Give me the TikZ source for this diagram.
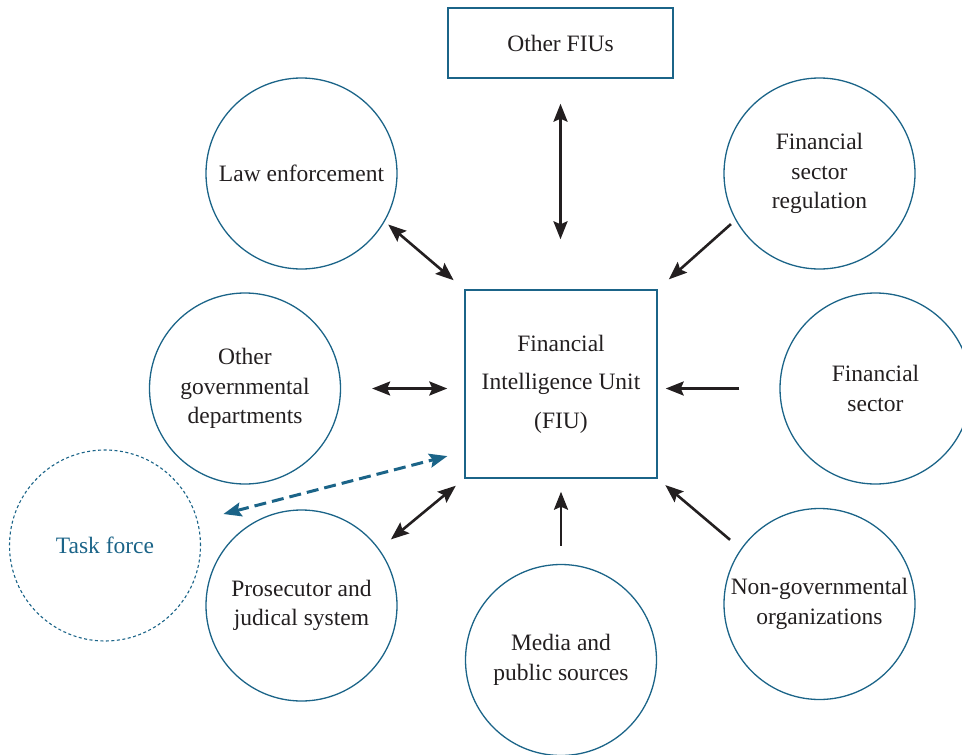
\documentclass[tikz,border=0pt]{standalone}
\usepackage{fontspec}
\setmainfont{Liberation Serif}
\usetikzlibrary{arrows.meta}
\definecolor{teal1}{HTML}{1B6488}
\definecolor{ink}{HTML}{231F20}
\begin{document}
\begin{tikzpicture}[x=1pt,y=-1pt,
  circ/.style={circle, draw=teal1, line width=1.3pt, minimum size=191pt, inner sep=0pt, align=center, text=ink, font=\fontsize{23.5}{29.5}\selectfont},
  tfcirc/.style={circ, dash pattern=on 3pt off 2.5pt, line width=1.1pt, text=teal1},
  box/.style={rectangle, draw=teal1, line width=1.4pt, inner sep=0pt, align=center, text=ink, font=\fontsize{23.5}{29.5}\selectfont},
  tip/.tip={Stealth[length=18pt,width=14pt,inset=3pt]},
  link/.style={draw=ink, line width=2.6pt, -tip},
  both/.style={draw=ink, line width=2.6pt, tip-tip},
  dashlink/.style={draw=teal1, line width=3pt, dash pattern=on 12pt off 6pt, tip-tip},
]
\clip (0,0) rectangle (962,755);

\node[box, minimum width=225pt, minimum height=70pt] (fius) at (560.5,43) {Other FIUs};
\node[box, minimum width=192pt, minimum height=188pt, font=\fontsize{23.5}{38.5}\selectfont] (fiu) at (561,384) {Financial\\Intelligence Unit\\(FIU)};
\node[circ] (law) at (301.5,173.5) {Law enforcement};
\node[circ] (reg) at (819.5,173.5) {Financial\\sector\\regulation};
\node[circ] (ogd) at (245,388.5) {Other\\governmental\\departments};
\node[circ] (fs) at (875.5,388.5) {Financial\\sector};
\node[tfcirc] (tf) at (105,545.5) {Task force};
\node[circ] (pros) at (301.5,605.5) {Prosecutor and\\judical system};
\node[circ] (media) at (561,660) {Media and\\public sources};
\node[circ] (ngo) at (819.5,604) {Non-governmental\\organizations};

\draw[both, shorten <=25pt, shorten >=50pt] (fius.south) -- (fius.south |- fiu.north);
\draw[both, shorten <=4.5pt, shorten >=14pt] (law.-30) -- (fiu.north west);
\draw[link, shorten <=6pt, shorten >=15pt] (reg.-151) -- (fiu.north east);
\draw[both, shorten <=31pt, shorten >=17pt] (ogd.east) -- (ogd.east -| fiu.west);
\draw[link, shorten <=40pt, shorten >=8pt] (fs.west) -- (fs.west -| fiu.east);
\draw[link, shorten <=14pt, shorten >=10pt] (ngo.145) -- (fiu.south east);
\draw[link, shorten <=18pt, shorten >=13pt] (media.north) -- (fiu.south);
\draw[both, shorten <=15pt, shorten >=11pt] (pros.36.5) -- (fiu.south west);
\draw[dashlink, shorten <=26.5pt, shorten >=17.5pt] (tf.15.75) -- (fiu.-145);
\end{tikzpicture}
\end{document}
